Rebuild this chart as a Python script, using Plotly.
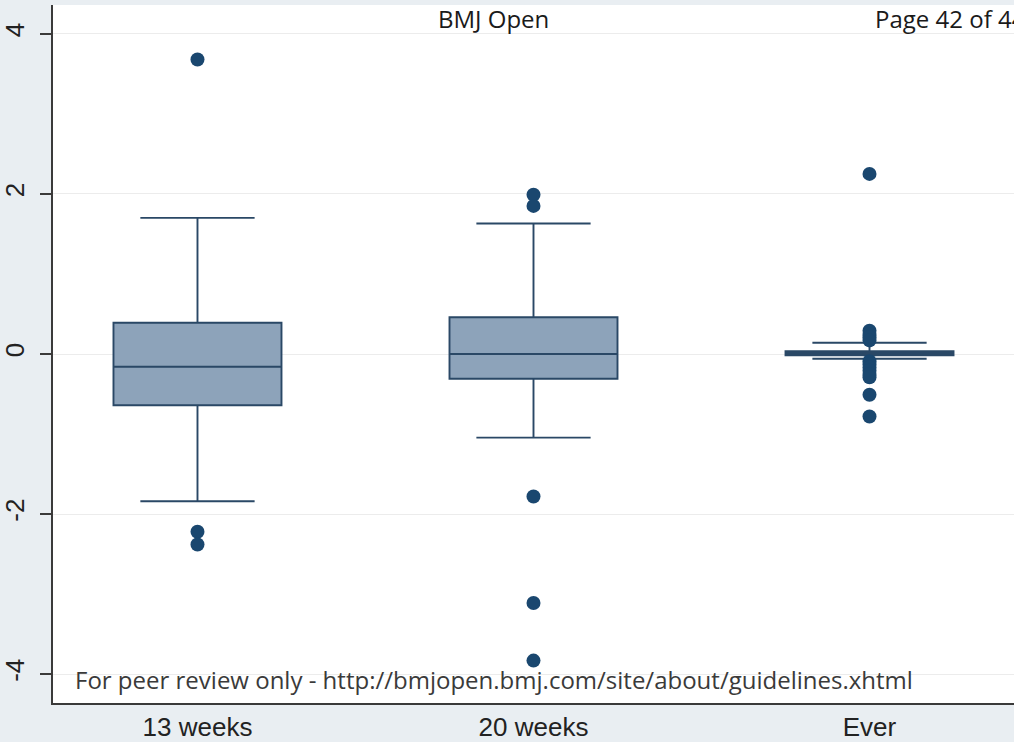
import plotly.graph_objects as go

categories = ["13 weeks", "20 weeks", "Ever"]
q1 = [-0.64, -0.31, -0.015]
median = [-0.16, 0.0, 0.01]
q3 = [0.39, 0.46, 0.035]
lowerfence = [-1.84, -1.045, -0.06]
upperfence = [1.70, 1.63, 0.14]

outlier_x = (["13 weeks"] * 3 + ["20 weeks"] * 5 + ["Ever"] * 13)
outlier_y = [3.68, -2.22, -2.38,
             1.99, 1.85, -1.78, -3.11, -3.83,
             2.25, 0.29, 0.25, 0.21, 0.17,
             -0.09, -0.13, -0.17, -0.21, -0.25, -0.29, -0.51, -0.78]

y_ticks = [-4, -2, 0, 2, 4]

NAVY = "#1a476f"

fig = go.Figure()
fig.add_trace(go.Box(
    x=categories, q1=q1, median=median, q3=q3,
    lowerfence=lowerfence, upperfence=upperfence,
    fillcolor="#8da3ba", line=dict(color="#2a4866", width=1.9),
    whiskerwidth=0.68, width=0.5, boxpoints=False, showlegend=False,
    hoverinfo="skip",
))
fig.add_trace(go.Scatter(
    x=outlier_x, y=outlier_y, mode="markers",
    marker=dict(color=NAVY, size=14, line=dict(width=0)),
    showlegend=False, hoverinfo="skip",
))

fig.update_layout(
    width=1014, height=742,
    margin=dict(l=52, r=0, t=5, b=36),
    paper_bgcolor="#e9eef2",
    plot_bgcolor="#ffffff",
    font=dict(family="Liberation Sans, Arial", color="#222222"),
    xaxis=dict(
        type="category", categoryorder="array", categoryarray=categories,
        range=[-0.43, 2.43], showgrid=False, zeroline=False,
        showline=True, linecolor="#3a3a3a", linewidth=2,
        ticks="", tickfont=dict(size=26, color="#222222"),
    ),
    yaxis=dict(
        range=[-4.36, 4.36], tickvals=y_ticks, ticktext=[str(v) for v in y_ticks],
        tickangle=-90, showgrid=True, gridcolor="#ececec", gridwidth=1,
        zeroline=False, showline=True, linecolor="#3a3a3a", linewidth=2,
        ticks="outside", ticklen=11, tickcolor="#3a3a3a", tickwidth=1.5,
        ticklabelstandoff=6,
        tickfont=dict(size=26, color="#222222"),
    ),
    annotations=[
        dict(text="BMJ Open", xref="paper", yref="paper", x=0.458, y=0.981,
             xanchor="center", yanchor="middle", showarrow=False,
             font=dict(family="Open Sans", size=24, color="#1a1a1a")),
        dict(text="Page 42 of 44", xref="paper", yref="paper", x=0.853, y=0.981,
             xanchor="left", yanchor="middle", showarrow=False,
             font=dict(family="Open Sans", size=24, color="#1a1a1a")),
        dict(text="For peer review only - http://bmjopen.bmj.com/site/about/guidelines.xhtml",
             xref="paper", yref="paper", x=0.0208, y=0.034,
             xanchor="left", yanchor="middle", showarrow=False,
             font=dict(family="Open Sans", size=24, color="#3a3a3a")),
    ],
)

fig.write_html("out.html", config={"displayModeBar": False},
               post_script="document.body.style.margin='0';document.body.style.overflow='hidden';")
